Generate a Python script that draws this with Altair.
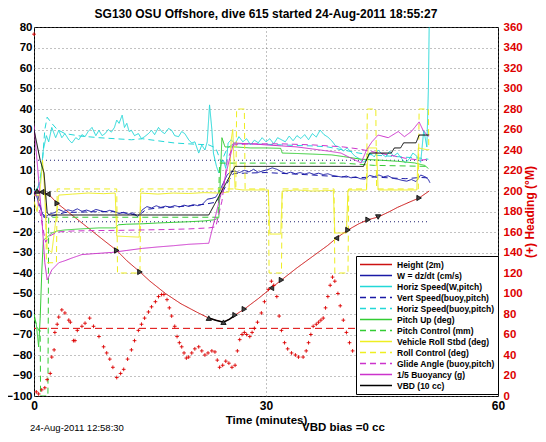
import altair as alt
import pandas as pd

FONT = "Liberation Sans"
TITLE = "SG130 OSU Offshore, dive 615 started 24-Aug-2011 18:55:27"
DATE_TEXT = "24-Aug-2011 12:58:30"
BIAS_TEXT = "VBD bias =0 cc"

SERIES = ["Height (2m)", "W = dz/dt (cm/s)", "Horiz Speed(W,pitch)", "Vert Speed(buoy,pitch)",
          "Horiz Speed(buoy,pitch)", "Pitch Up (deg)", "Pitch Control (mm)",
          "Vehicle Roll Stbd (deg)", "Roll Control (deg)", "Glide Angle (buoy,pitch)",
          "1/5 Buoyancy (g)", "VBD (10 cc)"]
COLORS = ["#cc1111", "#1a1aa6", "#22d8d8", "#1a1aa6", "#22d8d8", "#33cc33", "#33cc33",
          "#eeee22", "#eeee22", "#cc33cc", "#cc33cc", "#000000"]
DASHES = [[1, 0], [1, 0], [1, 0], [6, 4], [6, 4], [1, 0], [6, 4], [1, 0], [6, 4], [6, 4], [1, 0], [1, 0]]

HEIGHT = [(0, 0), (0.5, 0), (1.0, -0.5), (1.5, -1), (2.0, -2), (3.0, -6), (5.0, -12), (7.0, -18),
          (9.0, -24), (10.7, -29), (12.0, -34), (13.7, -39.5), (15.0, -44), (17.0, -50), (19.0, -55),
          (21.0, -59), (22.6, -62), (23.5, -63), (24.5, -64), (25.3, -62.5), (26.0, -60.5),
          (27.2, -57.6), (29.0, -52.5), (30.7, -47.3), (32.0, -43.4), (34.0, -37.5), (36.0, -32),
          (38.0, -26.5), (39.1, -23), (40.6, -19), (42.0, -16), (43.2, -14), (44.5, -12.7),
          (46.0, -10), (47.0, -8), (48.5, -5.5), (49.8, -3.4), (51.1, 0)]

W_DZDT = [(0, 0), (0.3, -2), (0.8, -8), (1.3, -13), (1.7, -12), (2.2, -11), (2.7, -10.5), (3.2, -9),
          (3.8, -10), (4.4, -9.2), (5.0, -9.8), (5.6, -8.7), (6.2, -9.9), (6.8, -9.3), (7.4, -10.1),
          (8.0, -9), (8.6, -9.6), (9.2, -10.2), (9.8, -9.4), (10.4, -10), (11.0, -11), (11.6, -10.4),
          (12.2, -11.3), (12.8, -10.6), (13.4, -12.5), (14.0, -9.2), (14.6, -7.6), (15.2, -8.3),
          (15.8, -7.2), (16.4, -8), (17.0, -7.4), (17.6, -7.9), (18.2, -7.1), (18.8, -7.8),
          (19.4, -6.9), (20.0, -7.5), (20.6, -6.6), (21.2, -7.2), (21.8, -6.4), (22.4, -4),
          (23.0, -3.6), (23.5, -3), (24.0, 0), (24.5, 4), (25.0, 8), (25.5, 9.5), (26.0, 9.6),
          (26.6, 9.0), (27.2, 10.1), (27.8, 9.3), (28.4, 10.6), (29.0, 9.1), (29.6, 9.8),
          (30.2, 10.4), (30.8, 11.3), (31.4, 10.6), (32.0, 9.4), (32.6, 8.5), (33.2, 9.2),
          (33.8, 8.4), (34.4, 9.0), (35.0, 8.3), (35.6, 8.9), (36.2, 8.1), (36.8, 8.7), (37.4, 8.0),
          (38.0, 8.4), (38.6, 7.6), (39.2, 7.2), (39.8, 6.8), (40.4, 7.3), (41.0, 6.4), (41.6, 6.9),
          (42.2, 6.0), (42.8, 5.8), (43.4, 7.6), (44.0, 7.0), (44.6, 7.8), (45.2, 6.9), (45.8, 7.4),
          (46.4, 6.2), (47.0, 5.8), (47.6, 5.2), (48.2, 4.8), (48.8, 5.6), (49.4, 4.6), (50.0, 7.8),
          (50.6, 6.9), (51.0, 5.6), (51.2, 4)]

HSPEED_W = [(0, 0), (0.4, 1), (0.8, 4), (1.2, 20), (1.6, 27), (1.9, 24), (2.3, 31), (2.8, 26),
            (3.2, 29.6), (3.6, 26), (4.0, 28), (4.5, 25), (4.9, 23.4), (5.4, 26), (5.8, 25),
            (6.2, 27.5), (6.6, 26.5), (7.0, 29), (7.5, 31), (8.0, 27), (8.4, 29.6), (8.8, 27),
            (9.2, 28), (9.6, 30), (10.0, 28.7), (10.4, 31), (10.7, 34.6), (11.0, 33), (11.4, 37),
            (11.7, 31), (12.0, 33), (12.3, 29), (12.6, 29.6), (13.0, 27), (13.5, 28), (13.9, 25.5),
            (14.3, 26.5), (14.8, 28), (15.2, 29.6), (15.6, 27.5), (16.1, 31), (16.5, 29), (16.9, 28),
            (17.4, 30.5), (17.8, 29.6), (18.2, 27), (18.7, 26.5), (19.1, 29), (19.5, 28), (20.0, 25),
            (20.4, 23.4), (20.8, 24), (21.3, 18.5), (21.7, 22.4), (22.1, 20), (22.4, 24), (22.7, 42),
            (23.0, 30), (23.2, 18.5), (23.6, 12), (23.9, 8.8), (24.2, 13), (24.5, 15), (24.8, 11),
            (25.1, 23.4), (25.5, 25), (26.0, 23), (26.5, 26.5), (27.0, 24), (27.5, 25.5), (28.0, 22.5),
            (28.5, 24.8), (29.0, 23.5), (29.5, 26), (30.0, 24), (30.5, 25.5), (31.0, 23), (31.5, 26),
            (32.0, 25), (32.5, 24), (33.0, 26.8), (33.5, 24.5), (34.0, 27), (34.5, 25.6), (35.0, 27.5),
            (35.5, 25), (36.0, 28), (36.5, 26.3), (37.0, 29.7), (37.5, 27.5), (38.0, 26.3),
            (38.5, 24.5), (39.0, 22), (39.5, 21.5), (40.0, 19.5), (40.5, 21), (41.0, 19), (41.5, 17),
            (42.0, 16), (42.5, 14), (43.0, 15), (43.5, 18.5), (44.0, 16.6), (44.5, 20), (45.0, 18),
            (45.5, 16.6), (46.0, 19.5), (46.5, 17), (47.0, 18.5), (47.5, 16), (48.0, 13.7),
            (48.5, 15.5), (49.0, 18.5), (49.5, 17), (50.0, 14), (50.4, 29.7), (50.8, 21.5),
            (51.0, 50), (51.1, 80)]

VSPEED_BUOY = [(0.5, -2), (1.0, -10), (1.5, -13), (2.5, -12), (4, -10.5), (6, -10.3), (8, -10.1),
               (10, -10), (12, -10.8), (13.5, -12), (14.5, -9), (16, -8.3), (18, -7.8), (20, -7.3),
               (22, -6.5), (23.5, -5.5), (24.2, -2), (25, 4), (25.8, 8.5), (28, 8.8), (30, 9),
               (32, 8.6), (34, 8.2), (36, 7.8), (38, 7.3), (40, 6.9), (42, 6.5), (44, 6.8),
               (46, 6.4), (48, 6), (50, 6.6), (51, 6.4)]

HSPEED_BUOY = [(0.5, 1.5), (1.0, 10), (1.4, 30), (1.7, 36), (2.3, 33), (3.0, 30), (4, 28),
               (6, 26.8), (8.4, 26), (10.5, 25.5), (12.6, 25), (14, 25.5), (16, 24.5), (18.2, 23.4),
               (20, 23), (22.6, 22.5), (23.5, 21), (24.2, 14), (25, 21), (25.8, 23), (28, 23),
               (30, 22.8), (32, 22.5), (34, 22.2), (36, 22), (38, 21.5), (40, 20), (42, 18.5),
               (44, 17.5), (46, 17), (48, 16.5), (50, 16), (51, 15.5)]

PITCH_UP = [(0, -60), (0.3, -65), (0.6, -76), (0.8, -62), (1.0, -40), (1.2, -24), (1.7, -22.5),
            (2.3, -20.5), (3, -19.5), (4, -19), (6, -18.5), (8.4, -18), (10.5, -18), (10.9, -16.5),
            (12, -16.2), (14, -16), (16, -15.6), (18, -15.3), (20, -15), (22, -14.6), (23.4, -14),
            (23.9, -13), (24.3, 26), (24.7, 21.5), (26, 21.5), (28, 21), (30, 21), (31.9, 20.8),
            (32.1, 18.5), (34, 18.3), (36, 18), (38.5, 17.6), (40, 16.8), (42.3, 15.5), (44.9, 15),
            (47, 14.5), (49.2, 13.7), (50.5, 12.5), (51, 11)]

PITCH_CTRL = [(0, -62), (0.6, -68), (0.8, -68), (0.85, -100), (1.8, -100), (1.9, -12.8),
              (23.8, -12.8), (24.0, 13.6), (40, 13.6), (44, 12.5), (51, 12)]

ROLL = [(0, -5), (0.4, -10), (0.8, 0.5), (1.1, 15), (1.3, 5), (1.7, -28), (2.3, -30), (2.9, -12),
        (3.2, -2), (5, -1.5), (7, -1), (9, -1.3), (10.5, -1), (10.7, -22), (13.6, -22.5),
        (13.8, -1), (16, -1.5), (18, -1), (20, -1.2), (22, -0.8), (23.9, -1), (25.2, -0.5),
        (25.5, 25), (25.7, 30), (26.0, 1), (27, 0.5), (29, 0.5), (30.3, 0.5), (30.5, -21),
        (31.9, -21), (32.1, 0), (34, 0.5), (36, 0), (38.7, 0.3), (38.9, -20.5), (40.4, -20.5),
        (40.6, 0.5), (43, 0.5), (43.2, 21), (44.3, 21), (44.5, 0.5), (47, 0.5), (49.5, 0.5),
        (49.7, 21), (51, 20)]

ROLL_CTRL = [(0, -2), (1.5, -2), (1.6, -35), (2.9, -35), (3.0, 1), (10.7, 1), (10.8, -40),
             (13.7, -40), (13.8, 1), (26.1, 1), (26.2, 40), (27.2, 40), (27.3, 1), (30.3, 1),
             (30.4, -40), (32.0, -40), (32.1, 1), (38.8, 1), (38.9, -40), (40.6, -40), (40.7, 1),
             (43.0, 1), (43.1, 40), (44.2, 40), (44.3, 1), (49.7, 1), (49.8, 40), (51.0, 40),
             (51.05, 20)]

GLIDE = [(0, 0), (0.5, -5), (1.0, -15), (1.5, -25), (2.0, -22), (3, -20), (5, -19.5), (8, -19.3),
         (11, -19.2), (14, -19), (17, -18.8), (20, -18.5), (22.6, -18), (23.5, -17.5), (24.3, -5),
         (25.0, 15), (25.8, 22.5), (28, 23), (32, 23), (36, 22.5), (40, 21.5), (42, 20.5),
         (44, 19), (46, 17.5), (48, 16), (50, 15), (51, 15.5)]

BUOYANCY = [(0, 32), (0.5, 10), (1.0, -12.6), (1.4, -35), (1.7, -43.4), (2.0, -41), (2.3, -38.5),
            (3.2, -35), (4.0, -34), (4.9, -32.7), (6.2, -31), (8, -30.5), (10, -30), (12, -29),
            (14, -28), (16, -27.3), (18, -26.7), (20, -26), (22, -25.6), (22.6, -25.5), (25.8, 23.4),
            (28, 23), (30, 22.5), (32, 22), (34, 21.5), (36, 20.5), (38, 19.5), (39.7, 18.5),
            (41, 16), (42.3, 13.7), (43, 20), (43.7, 24), (44.5, 27.3), (45.8, 26), (47.1, 29),
            (47.9, 26.5), (48.8, 29), (49.8, 33.7), (50.3, 29.7), (51, 26.5)]

VBD = [(0, 30), (0.8, 15), (1.3, 8.8), (1.7, -10.7), (2.0, -11.7), (22.6, -11.7), (26.0, 12),
       (42.6, 12), (43.4, 18.5), (46.2, 18.5), (46.6, 21), (47.4, 21), (47.8, 23.5), (49.4, 23.5),
       (49.8, 27.3), (51.1, 27.3)]

SERIES_DATA = [HEIGHT, W_DZDT, HSPEED_W, VSPEED_BUOY, HSPEED_BUOY, PITCH_UP, PITCH_CTRL,
               ROLL, ROLL_CTRL, GLIDE, BUOYANCY, VBD]

MARKER_T = [0.4, 1.0, 1.8, 3.0, 10.7, 13.7, 22.6, 24.5, 26.0, 27.2, 30.7, 32.0, 39.1, 40.6, 43.2, 44.5, 49.8]
MARKER_V = [0, -0.5, -1.5, -6, -29, -39.5, -62, -64, -60.5, -57.6, -47.3, -43.4, -23, -19, -14, -12.7, -3.4]
MARKER_SHAPE = ["triangle-up", "triangle-left", "triangle-left", "triangle-right", "triangle-right",
                "triangle-right", "triangle-up", "triangle-up", "triangle-right", "triangle-right",
                "triangle-left", "triangle-right", "triangle-left", "triangle-right", "triangle-right",
                "triangle-down", "triangle-right"]

HEADING = [(0, 353), (0.3, 4), (0.6, 2), (1.0, 6), (1.4, 8), (1.7, 16), (2.1, 22), (2.3, 38),
           (2.6, 45), (2.7, 62), (3.0, 70), (3.2, 77), (3.6, 84), (4.0, 81), (4.5, 74), (4.7, 72),
           (5.1, 54), (5.3, 54), (5.6, 64), (6.2, 68), (6.6, 71), (7.2, 76), (7.7, 68), (8.4, 58),
           (9.0, 48), (9.4, 42), (9.8, 36), (10.2, 28), (10.7, 18), (11.2, 22), (11.6, 26),
           (12.1, 36), (12.6, 45), (13.0, 54), (13.5, 64), (13.9, 70), (14.3, 76), (14.8, 82),
           (15.2, 87), (15.7, 92), (16.1, 97), (16.5, 99), (16.8, 99), (17.2, 94), (17.5, 86),
           (17.8, 78), (18.2, 68), (18.5, 58), (18.8, 52), (19.1, 48), (19.4, 42), (19.7, 37),
           (20.0, 38), (20.4, 42), (20.8, 46), (21.3, 48), (21.7, 44), (22.1, 40), (22.5, 42),
           (23.0, 44), (23.4, 43), (23.7, 35), (24.0, 28), (24.4, 30), (24.8, 34), (25.2, 32),
           (25.6, 28), (26.0, 30), (26.3, 44), (26.6, 55), (26.9, 60), (27.2, 62), (27.5, 60),
           (27.9, 58), (28.2, 62), (28.5, 66), (28.9, 72), (29.4, 81), (29.8, 92), (30.3, 104),
           (30.7, 112), (31.0, 108), (31.4, 97), (31.7, 78), (32.0, 64), (32.4, 52), (32.8, 46),
           (33.3, 42), (33.8, 40), (34.2, 38), (34.8, 38), (35.2, 44), (35.5, 52), (35.8, 60),
           (36.1, 68), (36.5, 70), (36.8, 72), (37.1, 74), (37.4, 76), (37.7, 86), (38.0, 97),
           (38.3, 108), (38.6, 116), (38.9, 112), (39.3, 100), (39.6, 88), (40.0, 74), (40.4, 62),
           (40.8, 52), (41.2, 44)]
TARGET_HEADING = [66]
GUIDE_LEVELS = [15, -15]
GUIDE_END = [51, 51]

# ---------- tables ----------
rows = []
for name, pts in zip(SERIES, SERIES_DATA):
    for i, (t, v) in enumerate(pts):
        rows.append({"series": name, "t": t, "v": v, "idx": i})
df = pd.DataFrame(rows)
df_mk = pd.DataFrame({"t": MARKER_T, "v": MARKER_V, "shape": MARKER_SHAPE})
df_head = pd.DataFrame(HEADING, columns=["t", "h"])
df_target = pd.DataFrame({"h": TARGET_HEADING})
df_guides = pd.DataFrame({"t0": [0, 0], "t1": GUIDE_END, "v": GUIDE_LEVELS})

X_SCALE = alt.Scale(domain=[0, 60], nice=False, zero=False)
Y_SCALE = alt.Scale(domain=[-100, 80], nice=False, zero=False)
H_SCALE = alt.Scale(domain=[0, 360], nice=False, zero=False)

X_AXIS = alt.Axis(values=[0, 30, 60], title="Time (minutes)", grid=True, ticks=False,
                  labelPadding=4, titlePadding=3, labelFontWeight="bold", labelFontSize=12,
                  titleFontWeight="bold", titleFontSize=11.5, labelColor="black", titleColor="black",
                  labelFlush=False)
Y_AXIS = alt.Axis(values=list(range(-100, 81, 10)), title=None, grid=True, ticks=False,
                  labelPadding=2, labelFontWeight="bold", labelFontSize=11.5, labelColor="black")
H_AXIS = alt.Axis(orient="right", values=list(range(0, 361, 20)), title="(+) Heading (°M)",
                  grid=False, ticks=False, labelPadding=5, labelFontWeight="bold", labelFontSize=11.5,
                  labelColor="#dd0000", titleColor="#dd0000", titleFontWeight="bold",
                  titleFontSize=12, titleAngle=270, titleBaseline="top", titlePadding=2)

x_enc = alt.X("t:Q", scale=X_SCALE, axis=X_AXIS)
y_enc = alt.Y("v:Q", scale=Y_SCALE, axis=Y_AXIS)

guides = alt.Chart(df_guides).mark_rule(color="#202070", strokeDash=[1, 3], strokeWidth=1).encode(
    x=alt.X("t0:Q", scale=X_SCALE, axis=X_AXIS), x2="t1:Q", y=alt.Y("v:Q", scale=Y_SCALE, axis=Y_AXIS))

lines = alt.Chart(df).mark_line(strokeWidth=1, clip=True).encode(
    x=x_enc, y=y_enc,
    color=alt.Color("series:N", scale=alt.Scale(domain=SERIES, range=COLORS), title=None),
    strokeDash=alt.StrokeDash("series:N", scale=alt.Scale(domain=SERIES, range=DASHES), title=None),
    order="idx:Q")

bottom_seg = alt.Chart(df).transform_filter(
    "datum.series == 'Height (2m)' && datum.t >= 22.6 && datum.t <= 26"
).mark_line(color="black", strokeWidth=1.6).encode(x=x_enc, y=y_enc, order="idx:Q")

markers = alt.Chart(df_mk).mark_point(filled=True, size=28, color="#444444", stroke="black",
                                      strokeWidth=0.8, opacity=1).encode(
    x=x_enc, y=y_enc, shape=alt.Shape("shape:N", scale=None))

date_txt = alt.Chart(pd.DataFrame({"txt": [DATE_TEXT]})).mark_text(
    align="left", baseline="alphabetic", font=FONT, fontSize=9.5, color="black").encode(
    x=alt.value(-4), y=alt.value(404), text="txt:N")
bias_txt = alt.Chart(pd.DataFrame({"txt": [BIAS_TEXT]})).mark_text(
    align="left", baseline="alphabetic", font=FONT, fontSize=11.5, fontWeight="bold", color="black").encode(
    x=alt.value(268), y=alt.value(404), text="txt:N")

main = alt.layer(guides, lines, bottom_seg, markers, date_txt, bias_txt)

head_pts = alt.Chart(df_head).mark_point(shape="M-1,0L1,0M0,-1L0,1", size=14, filled=False,
                                         color="#dd0000", strokeWidth=0.9, opacity=1).encode(
    x=x_enc, y=alt.Y("h:Q", scale=H_SCALE, axis=H_AXIS))
head_target = alt.Chart(df_target).mark_rule(color="#dd0000", strokeDash=[7, 4], strokeWidth=1).encode(
    y=alt.Y("h:Q", scale=H_SCALE, axis=H_AXIS))
heading = alt.layer(head_pts, head_target)

chart = alt.layer(main, heading).resolve_scale(y="independent").properties(
    width=464, height=369,
    autosize=alt.AutoSizeParams(type="none"),
    padding={"left": 26, "top": 19, "right": 40, "bottom": 38},
    title=alt.TitleParams(TITLE, font=FONT, fontSize=12, fontWeight="bold", anchor="middle",
                          frame="group", offset=0, color="black"),
).configure(font=FONT).configure_view(stroke="black", strokeWidth=1).configure_axis(
    labelFont=FONT, titleFont=FONT, domain=False, gridColor="#666666", gridDash=[1, 3],
    gridWidth=1, gridOpacity=0.8
).configure_legend(
    orient="none", legendX=322, legendY=229, fillColor="white", strokeColor="black", padding=3,
    labelFont=FONT, labelFontSize=8.5, labelFontWeight="bold", labelColor="black",
    symbolType="stroke", symbolSize=1024, symbolStrokeWidth=1.5, clipHeight=11, rowPadding=0,
    labelOffset=4, labelLimit=250
)

chart.save("out.html", embed_options={"renderer": "svg", "actions": False})
